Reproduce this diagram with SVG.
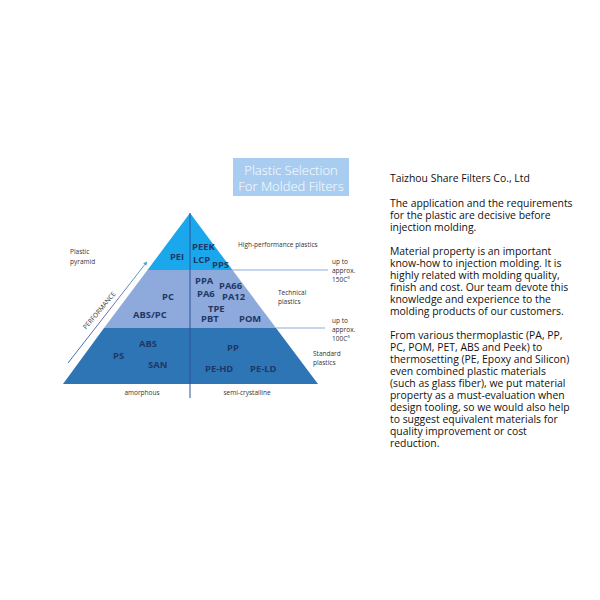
<svg xmlns="http://www.w3.org/2000/svg" width="600" height="600" viewBox="0 0 600 600">
<defs>
<style>
.lbl{font-family:"Open Sans","Noto Sans","Liberation Sans",sans-serif;font-weight:bold;font-size:9.4px;fill:#1F3864}
.sm{font-family:"Open Sans","Noto Sans","Liberation Sans",sans-serif;font-size:6.5px;fill:#333}
.body{font-family:"Open Sans","Noto Sans","Liberation Sans",sans-serif;font-size:10.4px;fill:#111}
.title{font-family:"Open Sans","Noto Sans","Liberation Sans",sans-serif;font-size:13px;fill:#fff;font-weight:300}
.ext{stroke:#8EA9DB;stroke-width:1.2}
</style>
<marker id="ah" markerWidth="4" markerHeight="4" refX="2" refY="2" orient="auto">
<path d="M0,0 L4,2 L0,4 Z" fill="#5B9BD5"/>
</marker>
<linearGradient id="perf" x1="0" y1="1" x2="1" y2="0">
<stop offset="0" stop-color="#2E75B6"/>
<stop offset="0.5" stop-color="#8064A2"/>
<stop offset="1" stop-color="#4BACC6"/>
</linearGradient>
</defs>
<rect width="600" height="600" fill="#fff"/>

<g id="title">
<rect x="233" y="158" width="116" height="38" fill="#A9CDF0"/>
<text class="title" x="291" y="175" text-anchor="middle">Plastic Selection</text>
<text class="title" x="291" y="191" text-anchor="middle">For Molded Filters</text>
</g>

<g id="pyramid">
<polygon id="band-high" points="190,213 232.5,270 147.5,270" fill="#1AA7EC"/>
<polygon id="band-tech" points="147.5,270 232.5,270 276,328 104,328" fill="#8EA9DB"/>
<polygon id="band-std" points="104,328 276,328 318,384 63,384" fill="#2E75B6"/>
</g>

<g id="connectors">
<line x1="190" y1="213" x2="190" y2="398" stroke="#2F5597" stroke-width="1"/>
<line class="ext" x1="232" y1="270" x2="328" y2="270"/>
<line class="ext" x1="276" y1="328" x2="325" y2="328"/>
<line x1="68" y1="363" x2="146" y2="263" stroke="url(#perf)" stroke-width="1" marker-end="url(#ah)"/>
</g>

<g id="n-high">
<text class="lbl" x="177" y="260" text-anchor="middle">PEI</text>
<text class="lbl" x="192" y="250">PEEK</text>
<text class="lbl" x="193" y="263">LCP</text>
<text class="lbl" x="212" y="268">PPS</text>
</g>
<g id="n-tech">
<text class="lbl" x="195" y="284">PPA</text>
<text class="lbl" x="219" y="289">PA66</text>
<text class="lbl" x="197" y="297">PA6</text>
<text class="lbl" x="222" y="300">PA12</text>
<text class="lbl" x="208" y="312">TPE</text>
<text class="lbl" x="201" y="322">PBT</text>
<text class="lbl" x="239" y="322">POM</text>
<text class="lbl" x="168" y="300" text-anchor="middle">PC</text>
<text class="lbl" x="133" y="318">ABS/PC</text>
</g>
<g id="n-std">
<text class="lbl" x="139" y="347">ABS</text>
<text class="lbl" x="113" y="359">PS</text>
<text class="lbl" x="148" y="368">SAN</text>
<text class="lbl" x="227" y="351">PP</text>
<text class="lbl" x="205" y="372">PE-HD</text>
<text class="lbl" x="250" y="372">PE-LD</text>
</g>

<g id="side-labels">
<text class="sm" x="70" y="254">Plastic</text>
<text class="sm" x="70" y="264">pyramid</text>
<text class="sm" x="238" y="247">High-performance plastics</text>
<text class="sm" x="332" y="264">up to</text>
<text class="sm" x="332" y="273">approx.</text>
<text class="sm" x="332" y="282">150C°</text>
<text class="sm" x="278" y="295">Technical</text>
<text class="sm" x="278" y="304">plastics</text>
<text class="sm" x="332" y="323">up to</text>
<text class="sm" x="332" y="332">approx.</text>
<text class="sm" x="332" y="341">100C°</text>
<text class="sm" x="313" y="356">Standard</text>
<text class="sm" x="313" y="365">plastics</text>
<text class="sm" x="142" y="395" text-anchor="middle">amorphous</text>
<text class="sm" x="247" y="395" text-anchor="middle">semi-crystalline</text>
<text class="sm" x="0" y="0" text-anchor="middle" font-size="5.5" transform="translate(101,312) rotate(-50)">PERFORMANCE</text>
</g>

<g id="description">
<text class="body" x="390" y="182">Taizhou Share Filters Co., Ltd</text>
<text class="body" x="390" y="207">The application and the requirements</text>
<text class="body" x="390" y="219">for the plastic are decisive before</text>
<text class="body" x="390" y="231">injection molding.</text>
<text class="body" x="390" y="255">Material property is an important</text>
<text class="body" x="390" y="267">know-how to injection molding. It is</text>
<text class="body" x="390" y="279">highly related with molding quality,</text>
<text class="body" x="390" y="291">finish and cost. Our team devote this</text>
<text class="body" x="390" y="303">knowledge and experience to the</text>
<text class="body" x="390" y="315">molding products of our customers.</text>
<text class="body" x="390" y="339">From various thermoplastic (PA, PP,</text>
<text class="body" x="390" y="351">PC, POM, PET, ABS and Peek) to</text>
<text class="body" x="390" y="363">thermosetting (PE, Epoxy and Silicon)</text>
<text class="body" x="390" y="375">even combined plastic materials</text>
<text class="body" x="390" y="387">(such as glass fiber), we put material</text>
<text class="body" x="390" y="399">property as a must-evaluation when</text>
<text class="body" x="390" y="411">design tooling, so we would also help</text>
<text class="body" x="390" y="423">to suggest equivalent materials for</text>
<text class="body" x="390" y="435">quality improvement or cost</text>
<text class="body" x="390" y="447">reduction.</text>
</g>
</svg>
